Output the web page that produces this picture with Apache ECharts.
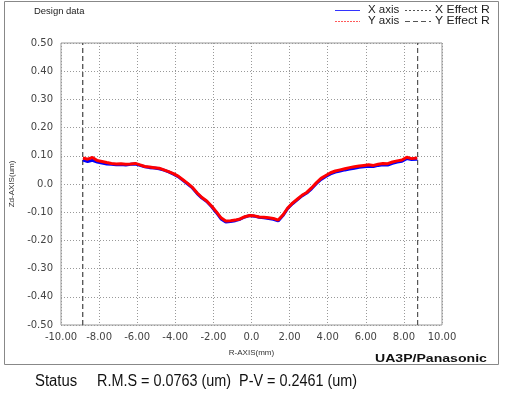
<!DOCTYPE html>
<html><head><meta charset="utf-8">
<script src="https://cdn.jsdelivr.net/npm/echarts@6/dist/echarts.min.js"></script>
<style>html,body{margin:0;padding:0;background:#fff}#c{width:505px;height:393px}</style>
</head><body><div id="c"></div>
<script>
// Radial positions (mm)
const rPos = [-8.85,-8.6,-8.35,-8.1,-7.85,-7.6,-7.35,-7.1,-6.85,-6.6,-6.35,-6.1,-5.85,-5.6,-5.35,-5.1,-4.85,-4.6,-4.35,-4.1,-3.85,-3.6,-3.35,-3.1,-2.85,-2.6,-2.35,-2.1,-1.85,-1.6,-1.35,-1.1,-0.85,-0.6,-0.35,-0.1,0.15,0.4,0.65,0.9,1.15,1.4,1.65,1.9,2.15,2.4,2.65,2.9,3.15,3.4,3.65,3.9,4.15,4.4,4.65,4.9,5.15,5.4,5.65,5.9,6.15,6.4,6.65,6.9,7.15,7.4,7.65,7.9,8.15,8.4,8.7];
// Y axis profile (um)
const yAxisVals = [0.092,0.088,0.094,0.083,0.080,0.076,0.073,0.071,0.072,0.070,0.071,0.073,0.068,0.062,0.060,0.058,0.056,0.050,0.044,0.037,0.028,0.015,0.002,-0.012,-0.032,-0.048,-0.060,-0.078,-0.098,-0.120,-0.131,-0.130,-0.128,-0.124,-0.116,-0.112,-0.113,-0.117,-0.118,-0.120,-0.122,-0.128,-0.110,-0.085,-0.068,-0.054,-0.040,-0.030,-0.014,0.004,0.020,0.030,0.040,0.046,0.050,0.054,0.058,0.061,0.064,0.066,0.068,0.066,0.070,0.073,0.072,0.078,0.082,0.085,0.095,0.090,0.092];
// X axis profile (um)
const xAxisVals = [0.085,0.080,0.084,0.078,0.074,0.071,0.070,0.068,0.069,0.067,0.070,0.071,0.066,0.061,0.058,0.057,0.054,0.049,0.043,0.035,0.026,0.013,0.000,-0.014,-0.034,-0.050,-0.062,-0.080,-0.101,-0.124,-0.135,-0.133,-0.130,-0.125,-0.117,-0.112,-0.114,-0.118,-0.120,-0.122,-0.125,-0.131,-0.112,-0.087,-0.070,-0.056,-0.042,-0.032,-0.017,0.001,0.016,0.027,0.036,0.042,0.046,0.050,0.053,0.056,0.059,0.061,0.063,0.062,0.066,0.068,0.067,0.073,0.078,0.081,0.090,0.087,0.088];
// Effective radius positions (mm)
const effectR = [-8.86, 8.72];
const xTicks = [-10,-8,-6,-4,-2,0,2,4,6,8,10];
const yTicks = [-0.5,-0.4,-0.3,-0.2,-0.1,0,0.1,0.2,0.3,0.4,0.5];
const rms = '0.0763', pv = '0.2461';

const fmt = v => Math.abs(v) < 1e-9 ? '0.0' : v.toFixed(2);
const pairs = (xs, ys) => xs.map((x, i) => [x, ys[i]]);
const effLine = [];
effectR.forEach((r, i) => { if (i) effLine.push([null, null]); effLine.push([r, -0.5], [r, 0.5]); });

const chart = echarts.init(document.getElementById('c'), null, {renderer: 'canvas'});
const tickFont = {fontFamily: 'DejaVu Sans', fontSize: 10, color: '#444'};
const lgText = (x, y, t, s) => ({type: 'text', x: x, y: y, scaleX: s, style: {text: t, font: '10px "Liberation Sans"', fill: '#222', textVerticalAlign: 'middle'}});
chart.setOption({
  backgroundColor: '#fff',
  animation: false,
  grid: {left: 61, top: 43, width: 381, height: 282, show: true, borderColor: '#999', borderWidth: 1, backgroundColor: 'transparent'},
  xAxis: {
    type: 'value', min: -10, max: 10, interval: 2,
    name: 'R-AXIS(mm)', nameLocation: 'middle', nameGap: 24,
    nameTextStyle: {fontFamily: 'Liberation Sans', fontSize: 8, color: '#333'},
    axisLine: {show: false}, axisTick: {show: false},
    axisLabel: Object.assign({margin: 7, formatter: v => fmt(v)}, tickFont),
    splitLine: {show: true, lineStyle: {type: [1, 2], color: '#999', width: 1}}
  },
  yAxis: {
    type: 'value', min: -0.5, max: 0.5, interval: 0.1,
    name: 'Zd-AXIS(um)', nameLocation: 'middle', nameGap: 45, nameRotate: 90,
    nameTextStyle: {fontFamily: 'Liberation Sans', fontSize: 8, color: '#333'},
    axisLine: {show: false}, axisTick: {show: false},
    axisLabel: Object.assign({margin: 8, formatter: v => fmt(v)}, tickFont),
    splitLine: {show: true, lineStyle: {type: [1, 2], color: '#999', width: 1}}
  },
  series: [
    {name: 'X Effect R', type: 'line', data: effLine, symbol: 'none', connectNulls: false,
     lineStyle: {color: '#555', width: 1, type: [5, 3]}, z: 1},
    {name: 'Y Effect R', type: 'line', data: effLine, symbol: 'none', connectNulls: false,
     lineStyle: {color: '#555', width: 1, type: [5, 3]}, z: 1},
    {name: 'X axis', type: 'line', data: pairs(rPos, xAxisVals), symbol: 'none',
     lineStyle: {color: '#0000ff', width: 3}, z: 3},
    {name: 'Y axis', type: 'line', data: pairs(rPos, yAxisVals), symbol: 'none',
     lineStyle: {color: '#ff0000', width: 3}, z: 4}
  ],
  graphic: [
    {type: 'rect', shape: {x: 4.5, y: 1.5, width: 494, height: 363}, style: {fill: null, stroke: '#888', lineWidth: 1}, silent: true, z: -1},
    {type: 'text', x: 34, y: 12, scaleX: 1.05, style: {text: 'Design data', font: '9px "Liberation Sans"', fill: '#222', textVerticalAlign: 'middle'}},
    {type: 'line', shape: {x1: 335, y1: 10.5, x2: 360, y2: 10.5}, style: {stroke: '#3333ff', lineWidth: 1}},
    lgText(368, 10, 'X axis', 1.15),
    {type: 'line', shape: {x1: 405, y1: 10.5, x2: 431, y2: 10.5}, style: {stroke: '#555', lineWidth: 1, lineDash: [2, 2]}},
    lgText(435, 10, 'X Effect R', 1.22),
    {type: 'line', shape: {x1: 335, y1: 21.5, x2: 360, y2: 21.5}, style: {stroke: '#ff5a5a', lineWidth: 1.2, lineDash: [2, 1]}},
    lgText(368, 21, 'Y axis', 1.15),
    {type: 'line', shape: {x1: 405, y1: 21.5, x2: 431, y2: 21.5}, style: {stroke: '#555', lineWidth: 1, lineDash: [5, 3]}},
    lgText(435, 21, 'Y Effect R', 1.22),
    {type: 'text', x: 375, y: 359, scaleX: 1.28, style: {text: 'UA3P/Panasonic', font: 'bold 11px "Liberation Sans"', fill: '#111', textVerticalAlign: 'middle'}},
    {type: 'text', x: 35, y: 382, scaleX: 0.93, style: {text: 'Status', font: '16px "Liberation Sans"', fill: '#111', textVerticalAlign: 'middle'}},
    {type: 'text', x: 97, y: 382, scaleX: 0.9, style: {text: 'R.M.S = ' + rms + ' (um)  P-V = ' + pv + ' (um)', font: '16px "Liberation Sans"', fill: '#111', textVerticalAlign: 'middle'}}
  ]
});
</script></body></html>
